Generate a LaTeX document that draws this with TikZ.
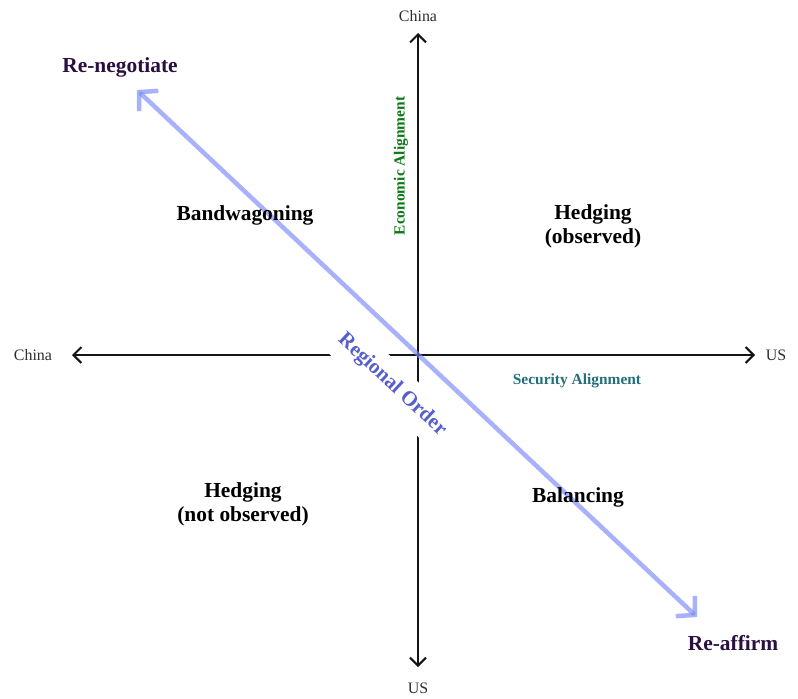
\documentclass[tikz,border=0pt]{standalone}
\usepackage{fontspec}
\setmainfont{Liberation Serif}
\usetikzlibrary{arrows.meta}
\definecolor{axisink}{RGB}{20,20,20}
\definecolor{endink}{RGB}{45,45,45}
\definecolor{purpleink}{RGB}{42,16,64}
\definecolor{greenink}{RGB}{10,120,20}
\definecolor{tealink}{RGB}{35,110,120}
\definecolor{orderblue}{RGB}{85,95,205}
\definecolor{diagblue}{RGB}{120,135,250}
\tikzset{
  axis/.style={draw=axisink, line width=2bp, {Straight Barb[length=8bp,width=16bp]}-{Straight Barb[length=8bp,width=16bp]}},
  diag/.style={draw=diagblue, opacity=0.65, line width=4.5bp, line cap=round, {Straight Barb[length=13bp,width=28bp]}-{Straight Barb[length=13bp,width=28bp]}},
  endlabel/.style={text=endink, font=\fontsize{16}{18}\selectfont, inner sep=0pt},
  quadlabel/.style={text=black, font=\bfseries\fontsize{21.5}{24}\selectfont, align=center, inner sep=0pt},
  polelabel/.style={text=purpleink, font=\bfseries\fontsize{21.5}{24}\selectfont, inner sep=0pt},
  axistitle/.style={font=\bfseries\fontsize{15.5}{17}\selectfont, inner sep=0pt},
}
\begin{document}
\begin{tikzpicture}[x=1bp,y=-1bp]
\useasboundingbox (0,0) rectangle (798,699);
% axis tips
\coordinate (vtop) at (418,33);
\coordinate (vbot) at (418,667);
\coordinate (hleft) at (72,355);
\coordinate (hright) at (755,355);
\coordinate (dtl) at (137,90);
\coordinate (dbr) at (697,617);
% axes
\draw[axis] (hleft) -- (hright);
\draw[axis] (vbot) -- (vtop);
% diagonal arrow
\draw[diag] (dtl) -- (dbr);
% axis end labels
\node[endlabel] (chinaTop) at (418,16) {China};
\node[endlabel] (usBottom) at (418,688) {US};
\node[endlabel] (chinaLeft) at (33,355) {China};
\node[endlabel] (usRight) at (776,355) {US};
% axis titles
\node[axistitle, text=greenink, rotate=90] (econ) at (401,166) {Economic Alignment};
\node[axistitle, text=tealink] (sec) at (577,381) {Security Alignment};
% quadrant labels
\node[quadlabel] (band) at (245,215) {Bandwagoning};
\node[quadlabel] (hedgeObs) at (593,226) {Hedging\\(observed)};
\node[quadlabel] (hedgeNot) at (243,504) {Hedging\\(not observed)};
\node[quadlabel] (bal) at (578,497) {Balancing};
% poles
\node[polelabel] (reneg) at (120,67) {Re-negotiate};
\node[polelabel] (reaff) at (733,643) {Re-affirm};
% regional order
\node[fill=white, text=orderblue, font=\bfseries\fontsize{21}{23}\selectfont, rotate=-43, inner xsep=3bp, inner ysep=10.5bp] (order) at (392,385) {Regional Order};
\end{tikzpicture}
\end{document}
